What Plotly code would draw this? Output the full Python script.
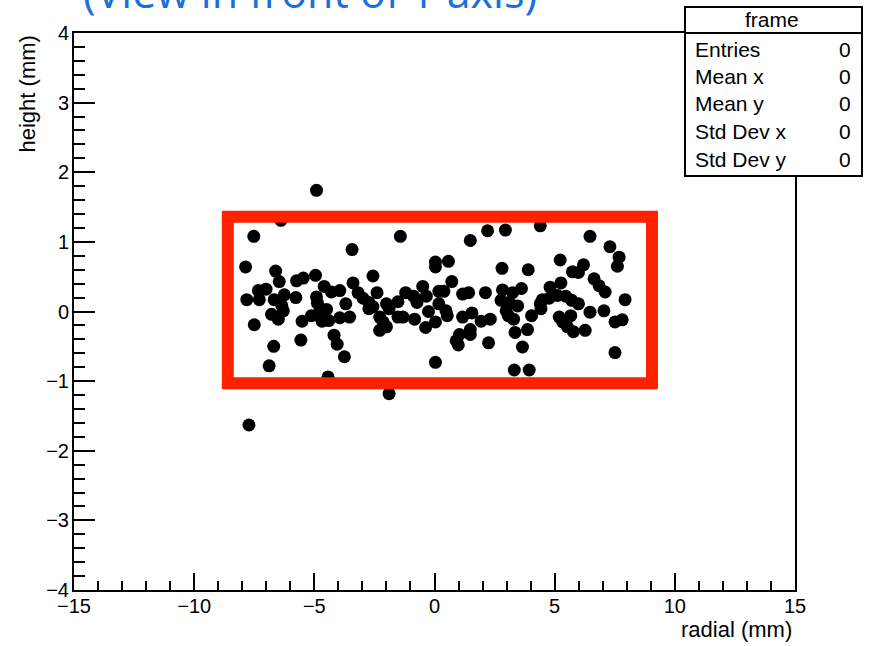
import plotly.graph_objects as go

# Measured hit positions in the radial / height plane (mm)
radial = [
    -4.91, -6.39, -7.52, -7.86, -6.61, -6.46, -5.74, -5.46, -4.95, -4.59, -4.29,
    -7.33, -7.01, -7.81, -7.29, -6.67, -6.25, -5.77, -6.36, -6.78, -6.50, -6.29,
    -4.91, -4.87, -7.50, -5.51, -5.12, -4.77, -4.49, -4.68, -4.40, -4.18, -5.56,
    -6.69, -6.88, -4.43, -7.72,
    -1.42, -3.43, 0.04, 0.04, -2.56, -3.39, -3.94, -3.18, -2.97, -2.39, -3.69,
    -2.73, -2.56, -2.73, -2.00, -1.89, -1.52, -1.20, -0.87, -0.73, -0.49, -0.34,
    0.18, 0.18, -3.94, -3.53, -2.28, -2.14, -2.28, -2.00, -1.52, -1.31, -0.83,
    -0.25, -0.37, 0.04, -4.05, -3.75, 0.04, -1.89,
    1.49, 2.21, 2.95, 4.40, 0.58, 2.81, 3.90, 0.72, 0.39, 1.17, 1.42, 2.12,
    2.83, 3.25, 3.62, 2.77, 0.48, 0.53, 1.17, 1.56, 1.94, 2.32, 2.98, 3.11,
    3.46, 3.07, 3.29, 4.04, 4.40, 1.49, 1.04, 0.90, 0.99, 1.49, 2.25, 3.35,
    3.87, 3.66, 3.32, 3.94,
    6.47, 7.30, 7.68, 7.61, 5.23, 6.20, 5.99, 5.74, 5.26, 4.81, 6.64, 6.85,
    7.10, 7.93, 4.49, 4.77, 5.12, 5.46, 5.71, 5.99, 4.43, 6.47, 7.05, 5.19,
    5.67, 5.33, 5.53, 5.78, 6.27, 7.51, 7.81, 7.51,
]
height = [
    1.74, 1.31, 1.08, 0.64, 0.58, 0.43, 0.44, 0.48, 0.52, 0.36, 0.28,
    0.30, 0.32, 0.17, 0.17, 0.17, 0.24, 0.20, 0.09, -0.04, -0.11, 0.01,
    0.21, 0.12, -0.19, -0.14, -0.06, 0.01, 0.03, -0.14, -0.13, -0.34, -0.41,
    -0.50, -0.78, -0.94, -1.63,
    1.08, 0.89, 0.71, 0.64, 0.51, 0.41, 0.30, 0.27, 0.19, 0.27, 0.11,
    0.13, 0.07, 0.04, 0.11, 0.04, 0.14, 0.27, 0.22, 0.13, 0.36, 0.22,
    0.29, 0.11, -0.09, -0.08, -0.08, -0.15, -0.27, -0.22, -0.08, -0.08, -0.11,
    0.00, -0.23, -0.15, -0.47, -0.65, -0.73, -1.18,
    1.02, 1.16, 1.17, 1.23, 0.72, 0.62, 0.60, 0.43, 0.29, 0.25, 0.27, 0.27,
    0.31, 0.27, 0.33, 0.16, 0.01, -0.06, -0.08, -0.02, -0.14, -0.11, 0.01, 0.13,
    0.08, -0.06, -0.11, -0.06, 0.11, -0.26, -0.33, -0.42, -0.48, -0.33, -0.45, -0.30,
    -0.26, -0.51, -0.84, -0.84,
    1.08, 0.93, 0.78, 0.65, 0.74, 0.67, 0.56, 0.57, 0.41, 0.35, 0.47, 0.37,
    0.28, 0.17, 0.17, 0.19, 0.23, 0.22, 0.16, 0.11, 0.04, -0.01, 0.01, -0.08,
    -0.06, -0.15, -0.22, -0.29, -0.27, -0.15, -0.12, -0.59,
]

# Selection window drawn over the hits
window_radial = [-8.6, 9.05]
window_height = [-1.03, 1.36]

# Statistics box rows
stat_names = ["Entries", "Mean x", "Mean y", "Std Dev x", "Std Dev y"]
stat_values = ["0", "0", "0", "0", "0"]

FONT = "Liberation Sans, Arial, Helvetica, sans-serif"

fig = go.Figure()
fig.add_trace(go.Scatter(
    x=radial, y=height, mode="markers",
    marker=dict(color="black", size=13, line=dict(width=0)),
    showlegend=False, hoverinfo="skip",
))

fig.add_shape(type="rect", xref="x", yref="y",
              x0=window_radial[0], x1=window_radial[1],
              y0=window_height[0], y1=window_height[1],
              line=dict(color="#ff2200", width=12), layer="above")

axis_common = dict(
    showgrid=False, zeroline=False,
    showline=True, linecolor="black", linewidth=2, mirror=True,
    ticks="inside", tickcolor="black", tickwidth=1.5,
    tickfont=dict(family=FONT, size=20, color="black"),
)
fig.update_xaxes(range=[-15, 15], tick0=0, dtick=5, ticklen=17,
                 minor=dict(ticks="inside", dtick=1, ticklen=9,
                            tickcolor="black", tickwidth=1.5),
                 ticklabelstandoff=-3, **axis_common)
fig.update_yaxes(range=[-4, 4], tick0=0, dtick=1, ticklen=21,
                 minor=dict(ticks="inside", dtick=0.2, ticklen=11,
                            tickcolor="black", tickwidth=1.5),
                 ticklabelstandoff=-1, **axis_common)

# Plot area in pixels: x 74..795, y 33..590
L, R, T, B = 74, 795, 33, 590
W, H = R - L, B - T


def px(xp):
    return (xp - L) / W


def py(yp):
    return (B - yp) / H


annotations = [
    dict(text="radial (mm)", x=px(794), y=py(629), xanchor="right", yanchor="middle",
         font=dict(family=FONT, size=22, color="black")),
    dict(text="height (mm)", x=px(27), y=py(34), xanchor="center", yanchor="top",
         textangle=-90, font=dict(family=FONT, size=22, color="black")),
    dict(text="(View in front of Y axis)", x=px(81), y=py(-8), xanchor="left",
         yanchor="middle", font=dict(family="Open Sans, sans-serif", size=43,
                                     color="#1a6fd8")),
]

# Statistics box
bx0, bx1, by0, by1, bhead = 685, 862, 7, 176, 33
fig.add_shape(type="rect", xref="paper", yref="paper",
              x0=px(bx0), x1=px(bx1), y0=py(by1), y1=py(by0),
              fillcolor="white", line=dict(color="black", width=2), layer="above")
fig.add_shape(type="line", xref="paper", yref="paper",
              x0=px(bx0), x1=px(bx1), y0=py(bhead), y1=py(bhead),
              line=dict(color="black", width=2), layer="above")
annotations.append(dict(text="frame", x=px(772), y=py(20), xanchor="center",
                        yanchor="middle",
                        font=dict(family=FONT, size=21, color="black")))
row_y = [50, 76, 103, 131, 159]
for name, val, ry in zip(stat_names, stat_values, row_y):
    annotations.append(dict(text=name, x=px(693), y=py(ry), xanchor="left",
                            yanchor="middle",
                            font=dict(family=FONT, size=21, color="black")))
    annotations.append(dict(text=val, x=px(853), y=py(ry), xanchor="right",
                            yanchor="middle",
                            font=dict(family=FONT, size=21, color="black")))

for a in annotations:
    a.update(xref="paper", yref="paper", showarrow=False)
fig.update_layout(
    width=875, height=646,
    margin=dict(l=L, r=875 - R, t=T, b=646 - B),
    paper_bgcolor="white", plot_bgcolor="white",
    annotations=annotations,
)

fig.write_html("out.html")
